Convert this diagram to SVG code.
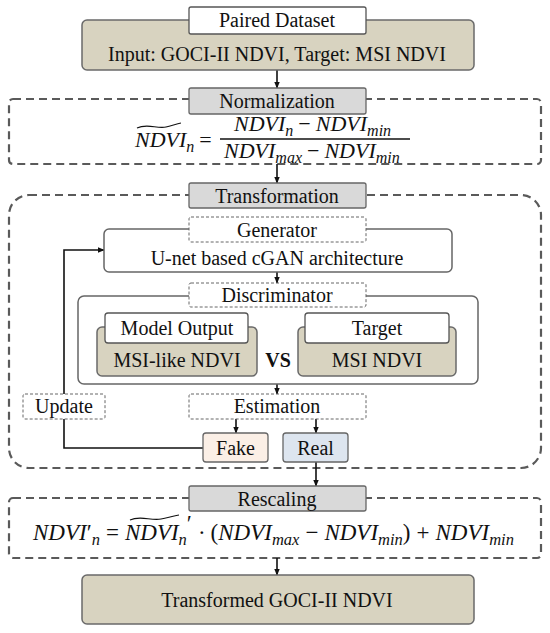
<svg xmlns="http://www.w3.org/2000/svg" width="550" height="633" viewBox="0 0 550 633">
<defs>
<style>
.lbl{font-size:20px;fill:#111;text-anchor:middle}
.math{font-size:22px;font-style:italic;fill:#111}
.up{font-style:normal}
.tan{fill:#d8d3c0;stroke:#6a6a6a;stroke-width:1.5}
.white{fill:#fff;stroke:#555;stroke-width:1.3}
.gray{fill:#d9d9d9;stroke:#666;stroke-width:1.3}
.dash{fill:none;stroke:#5a5a5a;stroke-width:2.2;stroke-dasharray:8 5}
.dot{fill:#fff;stroke:#666;stroke-width:1;stroke-dasharray:3 2}
.solid{fill:#fff;stroke:#666;stroke-width:1.5}
.conn{fill:none;stroke:#111;stroke-width:1.6}
.tilde{fill:none;stroke:#111;stroke-width:1.1}
</style>
<marker id="ah" viewBox="0 0 10 10" refX="9" refY="5" markerWidth="7" markerHeight="7" orient="auto" markerUnits="userSpaceOnUse">
<path d="M0,1 L10,5 L0,9 z" fill="#111"/>
</marker>
</defs>
<rect width="550" height="633" fill="#fff"/>

<rect id="norm-frame" class="dash" x="9" y="99" width="532" height="65" rx="4"/>
<rect id="trans-frame" class="dash" x="9" y="195" width="532" height="273" rx="20"/>
<rect id="resc-frame" class="dash" x="9" y="498" width="532" height="60" rx="4"/>

<g id="connectors">
<line class="conn" x1="277" y1="70" x2="277" y2="88" marker-end="url(#ah)"/>
<line class="conn" x1="277" y1="164" x2="277" y2="183" marker-end="url(#ah)"/>
<line class="conn" x1="277" y1="272" x2="277" y2="283" marker-end="url(#ah)"/>
<line class="conn" x1="277" y1="384" x2="277" y2="394" marker-end="url(#ah)"/>
<line class="conn" x1="236" y1="419" x2="236" y2="433" marker-end="url(#ah)"/>
<line class="conn" x1="316" y1="419" x2="316" y2="433" marker-end="url(#ah)"/>
<line class="conn" x1="316" y1="462" x2="316" y2="486" marker-end="url(#ah)"/>
<line class="conn" x1="277" y1="558" x2="277" y2="575" marker-end="url(#ah)"/>
<polyline class="conn" points="203,448 64,448 64,250 104,250" marker-end="url(#ah)"/>
</g>

<g id="input">
<rect class="tan" x="82" y="20" width="392" height="50" rx="5"/>
<rect class="white" x="189" y="7" width="177" height="27" rx="2"/>
<text class="lbl" font-family="Liberation Serif, serif" x="277" y="27">Paired Dataset</text>
<text class="lbl" font-family="Liberation Serif, serif" x="277" y="61">Input: GOCI-II NDVI, Target: MSI NDVI</text>
</g>

<g id="normalization">
<rect class="gray" x="189" y="88" width="177" height="26" rx="2"/>
<text class="lbl" font-family="Liberation Serif, serif" x="277" y="108">Normalization</text>
<g id="norm-formula">
<text class="math" font-family="Liberation Serif, serif" x="135" y="147">NDVI<tspan font-size="16" dy="5">n</tspan><tspan class="up" dx="5" dy="-5">=</tspan></text>
<path class="tilde" d="M137,128 C147,123 157,129 166,127 C171,126 176,124 181,123"/>
<text class="math" font-family="Liberation Serif, serif" x="234" y="131">NDVI<tspan font-size="16" dy="5">n</tspan><tspan class="up" dx="5" dy="-5">−</tspan><tspan dx="5">NDVI</tspan><tspan font-size="16" dy="5">min</tspan></text>
<line x1="220" y1="139" x2="410" y2="139" stroke="#111" stroke-width="1.3"/>
<text class="math" font-family="Liberation Serif, serif" x="224" y="158">NDVI<tspan font-size="16" dy="5">max</tspan><tspan class="up" dx="5" dy="-5">−</tspan><tspan dx="5">NDVI</tspan><tspan font-size="16" dy="5">min</tspan></text>
</g>
</g>

<g id="transformation">
<rect class="gray" x="189" y="183" width="177" height="25" rx="2"/>
<text class="lbl" font-family="Liberation Serif, serif" x="277" y="203">Transformation</text>
</g>

<g id="generator">
<rect class="solid" x="104" y="229" width="348" height="43" rx="5"/>
<rect class="dot" x="189" y="217" width="177" height="25" rx="2"/>
<text class="lbl" font-family="Liberation Serif, serif" x="277" y="237">Generator</text>
<text class="lbl" font-family="Liberation Serif, serif" x="277" y="265">U-net based cGAN architecture</text>
</g>

<g id="discriminator">
<rect class="solid" x="78" y="296" width="400" height="88" rx="6"/>
<rect class="dot" x="189" y="283" width="177" height="24" rx="2"/>
<text class="lbl" font-family="Liberation Serif, serif" x="277" y="302">Discriminator</text>
</g>

<g id="model-output">
<rect class="tan" x="97" y="327" width="160" height="49" rx="5"/>
<rect class="white" x="105" y="313" width="143" height="30" rx="3"/>
<text class="lbl" font-family="Liberation Serif, serif" x="177" y="335">Model Output</text>
<text class="lbl" font-family="Liberation Serif, serif" x="177" y="367">MSI-like NDVI</text>
</g>

<text id="vs" class="lbl" font-family="Liberation Serif, serif" x="278" y="367" font-weight="bold">VS</text>

<g id="target">
<rect class="tan" x="298" y="327" width="158" height="49" rx="5"/>
<rect class="white" x="305" y="313" width="144" height="30" rx="3"/>
<text class="lbl" font-family="Liberation Serif, serif" x="377" y="335">Target</text>
<text class="lbl" font-family="Liberation Serif, serif" x="377" y="367">MSI NDVI</text>
</g>

<g id="estimation">
<rect class="dot" x="189" y="394" width="177" height="25" rx="2"/>
<text class="lbl" font-family="Liberation Serif, serif" x="277" y="413">Estimation</text>
</g>

<g id="update">
<rect class="dot" x="23" y="394" width="82" height="25" rx="2"/>
<text class="lbl" font-family="Liberation Serif, serif" x="64" y="413">Update</text>
</g>

<g id="fake">
<rect x="203" y="433" width="65" height="29" rx="3" fill="#fbefe6" stroke="#666" stroke-width="1.3"/>
<text class="lbl" font-family="Liberation Serif, serif" x="235.5" y="455">Fake</text>
</g>

<g id="real">
<rect x="283" y="433" width="65" height="29" rx="3" fill="#dde5ef" stroke="#666" stroke-width="1.3"/>
<text class="lbl" font-family="Liberation Serif, serif" x="315.5" y="455">Real</text>
</g>

<g id="rescaling">
<rect class="gray" x="189" y="486" width="177" height="25" rx="2"/>
<text class="lbl" font-family="Liberation Serif, serif" x="277" y="506">Rescaling</text>
<g id="resc-formula">
<text class="math" font-family="Liberation Serif, serif" style="font-size:23px" x="33" y="540">NDVI<tspan class="up">′</tspan><tspan font-size="16.5" dy="5">n</tspan><tspan class="up" dx="6" dy="-5">=</tspan><tspan dx="6">NDVI</tspan><tspan font-size="16.5" dy="5">n</tspan><tspan class="up" dy="-14">′</tspan><tspan class="up" dx="6" dy="9">·</tspan><tspan class="up" dx="5">(</tspan><tspan>NDVI</tspan><tspan font-size="16.5" dy="5">max</tspan><tspan class="up" dx="6" dy="-5">−</tspan><tspan dx="6">NDVI</tspan><tspan font-size="16.5" dy="5">min</tspan><tspan class="up" dy="-5">)</tspan><tspan class="up" dx="6">+</tspan><tspan dx="6">NDVI</tspan><tspan font-size="16.5" dy="5">min</tspan></text>
<path class="tilde" d="M130,520 C140,515 151,521 161,519 C167,518 173,516 179,515"/>
</g>
</g>

<g id="output">
<rect class="tan" x="82" y="575" width="392" height="49" rx="5"/>
<text class="lbl" font-family="Liberation Serif, serif" x="277" y="607">Transformed GOCI-II NDVI</text>
</g>
</svg>
